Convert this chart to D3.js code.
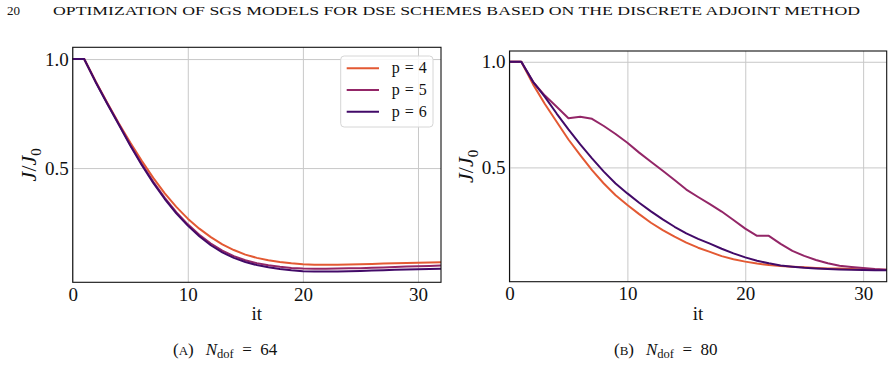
<!DOCTYPE html>
<html>
<head>
<meta charset="utf-8">
<script src="https://cdn.jsdelivr.net/npm/d3@7"></script>
<style>
  body { margin: 0; background: #fff; }
  svg { display: block; }
  text { font-family: "Liberation Serif", "DejaVu Serif", serif; fill: #111; }
</style>
</head>
<body>
<div id="chart"></div>
<script>
//************* data ***************/
var iters = d3.range(0, 33);
var seriesNames = ["p = 4", "p = 5", "p = 6"];
var xTicks = [0, 10, 20, 30];
var yTicks = [0.5, 1.0];

// N_dof = 64
var a_p4 = [1,1,0.897,0.8,0.706,0.617,0.533,0.455,0.384,0.322,0.268,0.222,0.183,0.15,0.124,0.103,0.088,0.077,0.069,0.063,0.059,0.057,0.057,0.057,0.058,0.059,0.06,0.062,0.063,0.065,0.066,0.067,0.068];
var a_p5 = [1,1,0.895,0.797,0.702,0.607,0.518,0.437,0.363,0.298,0.242,0.194,0.154,0.121,0.096,0.077,0.064,0.054,0.047,0.042,0.039,0.038,0.038,0.039,0.04,0.041,0.043,0.044,0.046,0.048,0.05,0.051,0.053];
var a_p6 = [1,1,0.894,0.795,0.7,0.604,0.514,0.432,0.358,0.292,0.236,0.187,0.146,0.113,0.088,0.069,0.055,0.045,0.037,0.031,0.027,0.026,0.025,0.026,0.027,0.028,0.03,0.031,0.033,0.035,0.036,0.037,0.038];

// N_dof = 80
var b_p4 = [1,1,0.893,0.8,0.716,0.632,0.558,0.487,0.424,0.368,0.322,0.279,0.238,0.203,0.172,0.144,0.12,0.1,0.08,0.065,0.054,0.045,0.038,0.033,0.03,0.027,0.024,0.022,0.021,0.019,0.017,0.016,0.016];
var b_p5 = [1,1,0.905,0.84,0.787,0.733,0.74,0.73,0.696,0.658,0.617,0.57,0.527,0.484,0.44,0.395,0.36,0.326,0.291,0.251,0.21,0.176,0.176,0.138,0.105,0.081,0.062,0.046,0.035,0.029,0.024,0.019,0.016];
var b_p6 = [1,1,0.905,0.834,0.755,0.68,0.609,0.543,0.48,0.424,0.377,0.333,0.292,0.254,0.219,0.188,0.162,0.139,0.115,0.093,0.074,0.058,0.046,0.036,0.03,0.025,0.022,0.019,0.017,0.015,0.014,0.013,0.013];

var colors = ["#e35933", "#932667", "#420a68"];

//************* setup svg ***************/
var W = 894, H = 368;
var svg = d3.select("#chart").append("svg")
  .attr("width", W)
  .attr("height", H);

// running head
svg.append("text")
  .attr("x", 7).attr("y", 15)
  .style("font-size", "13px")
  .text("20");
svg.append("text")
  .attr("x", 53).attr("y", 15)
  .style("font-size", "13.5px")
  .attr("textLength", 807)
  .attr("lengthAdjust", "spacingAndGlyphs")
  .text("OPTIMIZATION OF SGS MODELS FOR DSE SCHEMES BASED ON THE DISCRETE ADJOINT METHOD");

//*********** panel function *************/
function drawPanel(cfg) {
  var x = d3.scaleLinear().domain([0, 32]).range([cfg.left, cfg.right]);
  var y = d3.scaleLinear().domain(cfg.ydom).range([cfg.bottom, cfg.top]);
  var w = cfg.right - cfg.left, h = cfg.bottom - cfg.top;

  var g = svg.append("g");

  // grid
  g.append("g")
    .attr("transform", "translate(0," + cfg.bottom + ")")
    .call(d3.axisBottom(x).tickValues(xTicks).tickSize(-h).tickFormat(""))
    .call(function(s) {
      s.select(".domain").remove();
      s.selectAll("line").attr("stroke", "#c8c8c8").attr("stroke-width", 1);
    });
  g.append("g")
    .attr("transform", "translate(" + cfg.left + ",0)")
    .call(d3.axisLeft(y).tickValues(yTicks).tickSize(-w).tickFormat(""))
    .call(function(s) {
      s.select(".domain").remove();
      s.selectAll("line").attr("stroke", "#c8c8c8").attr("stroke-width", 1);
    });

  // lines
  var line = d3.line()
    .x(function(d, i) { return x(iters[i]); })
    .y(function(d) { return y(d); });

  cfg.series.forEach(function(s, i) {
    g.append("path")
      .datum(s)
      .attr("fill", "none")
      .attr("stroke", colors[i])
      .attr("stroke-width", 2)
      .attr("stroke-linejoin", "round")
      .attr("d", line);
  });

  // frame
  g.append("rect")
    .attr("x", cfg.left).attr("y", cfg.top)
    .attr("width", w).attr("height", h)
    .attr("fill", "none")
    .attr("stroke", "#111")
    .attr("stroke-width", 1.1);

  // tick labels
  var xa = g.append("g")
    .attr("transform", "translate(0," + cfg.bottom + ")")
    .call(d3.axisBottom(x).tickValues(xTicks).tickSize(0).tickPadding(5).tickFormat(d3.format("d")));
  xa.select(".domain").remove();
  xa.selectAll("text").style("font-size", "19px").attr("fill", "#111")
    .style("font-family", "'Liberation Serif', serif");

  var ya = g.append("g")
    .attr("transform", "translate(" + cfg.left + ",0)")
    .call(d3.axisLeft(y).tickValues(yTicks).tickSize(0).tickPadding(4).tickFormat(d3.format(".1f")));
  ya.select(".domain").remove();
  ya.selectAll("text").style("font-size", "19px").attr("fill", "#111")
    .style("font-family", "'Liberation Serif', serif");

  // axis labels
  g.append("text")
    .attr("x", (cfg.left + cfg.right) / 2)
    .attr("y", 320)
    .attr("text-anchor", "middle")
    .style("font-size", "19px")
    .text("it");

  var yl = g.append("text")
    .attr("transform", "translate(" + cfg.ylabX + "," + ((cfg.top + cfg.bottom) / 2) + ") rotate(-90)")
    .attr("text-anchor", "middle")
    .style("font-size", "22px");
  yl.append("tspan").style("font-style", "italic").text("J");
  yl.append("tspan").text("/");
  yl.append("tspan").style("font-style", "italic").text("J");
  yl.append("tspan").attr("dy", 5).style("font-size", "15px").text("0");

  // caption
  var cap = svg.append("text")
    .attr("x", cfg.capX).attr("y", 355)
    .style("font-size", "17px");
  cap.append("tspan").text("(");
  cap.append("tspan").style("font-size", "13px").text(cfg.letter);
  cap.append("tspan").text(")\u2002\u2009");
  cap.append("tspan").style("font-style", "italic").text("N");
  cap.append("tspan").attr("dy", 3).style("font-size", "12.5px").text("dof");
  cap.append("tspan").attr("dy", -3).text("\u2002=\u2002" + cfg.n);

  return { g: g, x: x, y: y };
}

var A = drawPanel({
  left: 72.7, right: 441, top: 47.3, bottom: 282.3,
  ydom: [-0.024, 1.054],
  series: [a_p4, a_p5, a_p6],
  ylabX: 36, capX: 173, letter: "A", n: "64"
});

var B = drawPanel({
  left: 509.5, right: 886.7, top: 51, bottom: 281.7,
  ydom: [-0.041, 1.051],
  series: [b_p4, b_p5, b_p6],
  ylabX: 473, capX: 614, letter: "B", n: "80"
});

//*************** legend *****************/
var legend = A.g.append("g");
legend.append("rect")
  .attr("x", 340.7).attr("y", 56)
  .attr("width", 92.3).attr("height", 71)
  .attr("rx", 3.5)
  .attr("fill", "#fff").attr("fill-opacity", 0.85)
  .attr("stroke", "#d6d6d6");

seriesNames.forEach(function(name, i) {
  var row = legend.append("g")
    .attr("transform", "translate(0," + (68.3 + i * 21.7) + ")");
  row.append("line")
    .attr("x1", 346.7).attr("x2", 379)
    .attr("stroke", colors[i]).attr("stroke-width", 2);
  row.append("text")
    .attr("x", 391.7).attr("y", 5)
    .style("font-size", "16px")
    .attr("textLength", 35)
    .attr("lengthAdjust", "spacing")
    .text(name);
});
</script>
</body>
</html>
